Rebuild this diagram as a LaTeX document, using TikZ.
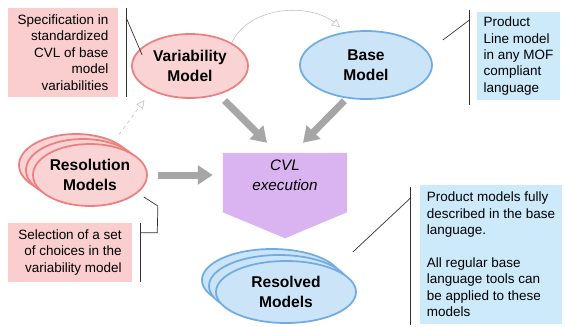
\documentclass[tikz,border=0pt]{standalone}
\usepackage{fontspec}
\setmainfont{Liberation Sans}
\usetikzlibrary{shapes.geometric,arrows.meta,calc}

\definecolor{notepink}{RGB}{250,206,206}
\definecolor{modelpink}{RGB}{250,212,212}
\definecolor{modelred}{RGB}{236,128,128}
\definecolor{noteblue}{RGB}{204,234,250}
\definecolor{modelblue}{RGB}{204,228,248}
\definecolor{modeledge}{RGB}{112,172,226}
\definecolor{cvlpurple}{RGB}{218,180,240}
\definecolor{arrowgray}{RGB}{166,166,166}

\newcommand\notesize{\fontsize{11.5}{14}\selectfont}
\newcommand\modelsize{\fontsize{13.3}{17}\selectfont\bfseries}

\begin{document}
\begin{tikzpicture}[x=0.3mm,y=-0.3mm,
    boxsize/.style n args={2}{minimum width=#1*0.3mm,minimum height=#2*0.3mm},
    pinkmodel/.style={ellipse,draw=modelred,fill=modelpink,line width=1.5pt,inner sep=0pt,align=center,font=\modelsize},
    bluemodel/.style={ellipse,draw=modeledge,fill=modelblue,line width=1.5pt,inner sep=0pt,align=center,font=\modelsize},
    note/.style={inner sep=0pt,font=\notesize},
    bar/.style={draw=black!80,line width=0.6pt},
    bigarrow/.style={draw=arrowgray,line width=2.1mm,-{Triangle[length=4.5mm,width=5.6mm]}},
    thinarrow/.style={draw=black!25,line width=0.5pt,-{Triangle[open,length=2.4mm,width=2.4mm]}}]
    \useasboundingbox (0,0) rectangle (565,326);

    % Draw the variability and base models
    \node[pinkmodel,boxsize={116}{64}] (var) at (190,66) {Variability\\Model};
    \node[bluemodel,boxsize={132}{68}] (base) at (366,65) {Base\\Model};
    \draw[thinarrow] (var.north east) .. controls (250,5) and (310,3) .. ($(base.north)+(-26,-3)$);

    % Draw the notes next to them
    \node[note,fill=notepink,align=right,boxsize={110}{89}] (spec) at (63,52.5)
        {Specification in\\standardized\\CVL of base\\model\\variabilities};
    \draw[bar] ($(spec.north east)+(8,0)$) -- ($(spec.south east)+(8,0)$);
    \draw[bar] ($(spec.north east)+(8,10)$) -- ($(var.west)+(11,-11)$);

    \node[note,fill=noteblue,align=left,boxsize={83}{88}] (line) at (518.5,56)
        {Product\\Line model\\in any MOF\\compliant\\language};
    \draw[bar] ($(line.north west)+(-7,-2)$) -- ($(line.south west)+(-7,5)$);
    \draw[bar] ($(line.north west)+(-7,8)$) -- ($(base.east)+(10,-25)$);

    % Draw the resolution models (a stack)
    \node[pinkmodel,boxsize={114}{62}] (res3) at (76,165) {};
    \node[pinkmodel,boxsize={114}{62}] (res2) at (83,170) {};
    \node[pinkmodel,boxsize={114}{62}] (res) at (90,175) {Resolution\\Models};
    \draw[thinarrow,dashed] ($(res3.north east)+(2,-8)$) -- ($(var.south west)+(-4,11)$);

    \node[note,fill=notepink,align=right,boxsize={124}{59}] (select) at (70,252.5)
        {Selection of a set\\of choices in the\\variability model};
    \draw[bar] ($(select.north east)+(8,0)$) -- ($(select.south east)+(8,0)$);
    \draw[bar] ($(select.north east)+(8,10)$) -- ($(select.north east)+(25,10)$)
        -- ($(res.east)+(10,31)$) -- ($(res.east)+(-4,22)$);

    % Draw the CVL execution step
    \node[boxsize={124}{59}] (cvl) at (285,182.5) {};
    \fill[cvlpurple] (cvl.north west) -- (cvl.north east) -- (cvl.south east)
        -- ($(cvl.south)+(0,26)$) -- (cvl.south west) -- cycle;
    \node[font=\fontsize{13}{17}\selectfont\itshape,align=center] (cvltext) at ($(cvl.center)+(0,-7)$) {CVL\\execution};

    \draw[bigarrow,shorten <=2.5mm] (var.-45) -- ($(cvl.north)+(-18,-10)$);
    \draw[bigarrow,shorten <=1mm] (base.-120) -- ($(cvl.north)+(18,-10)$);
    \draw[bigarrow,shorten <=3mm,shorten >=3mm] (res.east) -- (res.east -| cvl.west);

    % Draw the resolved models (a stack)
    \node[bluemodel,boxsize={140}{62}] (out3) at (272,280) {};
    \node[bluemodel,boxsize={140}{62}] (out2) at (279,286) {};
    \node[bluemodel,boxsize={140}{62}] (out) at (286,292) {Resolved\\Models};

    \node[note,fill=noteblue,align=left,boxsize={142}{139}] (product) at (491,254.5)
        {Product models fully\\described in the base\\language.\\[14pt]All regular base\\language tools can\\be applied to these\\models};
    \draw[bar] ($(product.north west)+(-9,2)$) -- ($(product.south west)+(-9,1)$);
    \draw[bar] ($(product.north west)+(-9,13)$) -- ($(out.east)+(-4,-40)$);
\end{tikzpicture}
\end{document}
